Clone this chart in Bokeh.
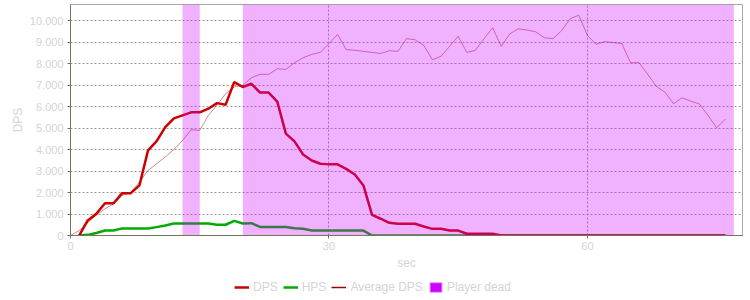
from bokeh.plotting import figure
from bokeh.layouts import column
from bokeh.models import (Range1d, FixedTicker, CustomJSTickFormatter, Legend, LegendItem,
                          ColumnDataSource)
from bokeh.embed import file_html
from bokeh.resources import INLINE

# ---- data ----
seconds = list(range(1, 77))
dps = [0, 700, 1010, 1500, 1500, 1970, 1970, 2330, 3960, 4390,
       5040, 5450, 5590, 5730, 5730, 5900, 6160, 6080, 7140, 6910,
       7060, 6650, 6650, 6230, 4740, 4380, 3770, 3490, 3340, 3310,
       3310, 3100, 2840, 2330, 960, 780, 590, 545, 545, 545,
       420, 310, 310, 230, 230, 80, 80, 80, 80, 0,
       0, 0, 0, 0, 0, 0, 0, 0, 0, 0,
       0, 0, 0, 0, 0, 0, 0, 0, 0, 0,
       0, 0, 0, 0, 0, 0]
hps = [0, 30, 120, 230, 230, 330, 330, 330, 330, 390,
       465, 560, 560, 560, 560, 560, 500, 500, 680, 560,
       575, 400, 400, 400, 400, 340, 310, 230, 230, 230,
       230, 230, 230, 230, 0, 0, 0, 0, 0, 0,
       0, 0, 0, 0, 0, 0, 0, 0, 0, 0,
       0, 0, 0, 0, 0, 0, 0, 0, 0, 0,
       0, 0, 0, 0, 0, 0, 0, 0, 0, 0,
       0, 0, 0, 0, 0, 0]
seconds_avg = list(range(0, 77))
avg_dps = [0, 230, 600, 950, 1240, 1470, 1860, 2010, 2480, 3030,
           3340, 3650, 4000, 4420, 4920, 4890, 5590, 6060, 6600, 6910,
           6990, 7340, 7500, 7500, 7760, 7730, 8040, 8270, 8430, 8520,
           8930, 9360, 8650, 8620, 8570, 8520, 8470, 8600, 8570, 9160,
           9110, 8850, 8180, 8340, 8800, 9270, 8520, 8620, 9160, 9670,
           8800, 9390, 9620, 9560, 9480, 9200, 9160, 9530, 10090, 10250,
           9310, 8900, 9020, 8980, 8930, 8040, 8040, 7500, 6940, 6670,
           6130, 6410, 6250, 6120, 5590, 5010, 5420]
dead_start = [13, 20]
dead_end = [15, 77]
x_ticks = [0, 30, 60]
y_ticks = list(range(0, 10001, 1000))
legend_labels = ["DPS", "HPS", "Average DPS", "Player dead"]

FONT = "Liberation Sans"
LABEL = "#d4d4d4"
AXIS = "#74745f"
NAN = float("nan")
DPS_C, HPS_C, AVG_C, DEAD_C = "#cc0000", "#00aa00", "#990000", "#cc00ff"

p = figure(width=750, height=272, output_backend="svg", toolbar_location=None,
           x_range=Range1d(0, 78), y_range=Range1d(0, 10750),
           min_border_left=70, min_border_right=8, min_border_top=4,
           min_border_bottom=30)
p.background_fill_color = "white"
p.border_fill_color = "white"
p.outline_line_color = "#a8a8a8"

for ax in (p.xaxis[0], p.yaxis[0]):
    ax.axis_line_color = AXIS
    ax.major_tick_line_color = AXIS
    ax.major_tick_out = 3
    ax.major_tick_in = 0
    ax.minor_tick_line_color = None
    ax.major_label_text_color = LABEL
    ax.major_label_text_font = FONT
    ax.major_label_text_font_size = "11px"
    ax.axis_label_text_color = LABEL
    ax.axis_label_text_font = FONT
    ax.axis_label_text_font_size = "12px"
    ax.axis_label_text_font_style = "normal"

p.xaxis.ticker = FixedTicker(ticks=x_ticks)
p.yaxis.ticker = FixedTicker(ticks=y_ticks)
p.yaxis.formatter = CustomJSTickFormatter(
    code='return tick.toString().replace(/\\B(?=(\\d{3})+(?!\\d))/g, ".");')
p.xaxis.axis_label = "sec"
p.yaxis.axis_label = "DPS"
p.xaxis.major_label_standoff = 3
p.yaxis.major_label_standoff = 4
p.xaxis.axis_label_standoff = 3
p.yaxis.axis_label_standoff = 2

for g in (p.xgrid[0], p.ygrid[0]):
    g.grid_line_color = "#9a9a90"
    g.grid_line_dash = "2 2"
    g.grid_line_width = 1

p.line(seconds_avg, avg_dps, line_color=AVG_C, line_width=1, line_alpha=0.45)
p.line(seconds, hps, line_color=HPS_C, line_width=2.5)
p.line(seconds, dps, line_color=DPS_C, line_width=2.5)

dead_src = ColumnDataSource(dict(left=dead_start, right=dead_end,
                                 bottom=[0] * len(dead_start),
                                 top=[10750] * len(dead_start)))
p.quad(left="left", right="right", bottom="bottom", top="top", source=dead_src,
       fill_color=DEAD_C, fill_alpha=0.3, line_color=None)

# ---- legend strip below the chart ----
lg = figure(width=750, height=28, output_backend="svg", toolbar_location=None,
            x_range=Range1d(0, 1), y_range=Range1d(0, 1),
            x_axis_type=None, y_axis_type=None,
            min_border_left=0, min_border_right=0, min_border_top=0, min_border_bottom=0)
lg.outline_line_color = None
lg.grid.visible = False
lg.background_fill_color = "white"
lg.border_fill_color = "white"
g_dps = lg.line([NAN, NAN], [NAN, NAN], line_color=DPS_C, line_width=2.5)
g_hps = lg.line([NAN, NAN], [NAN, NAN], line_color=HPS_C, line_width=2.5)
g_avg = lg.line([NAN, NAN], [NAN, NAN], line_color=AVG_C, line_width=1.5)
g_dead = lg.quad(left=[NAN], right=[NAN], bottom=[NAN], top=[NAN], fill_color=DEAD_C,
                 line_color="#e6a0ff", line_width=1)

legend = Legend(items=[LegendItem(label=lab, renderers=[r]) for lab, r in
                       zip(legend_labels, [g_dps, g_hps, g_avg, g_dead])],
                orientation="horizontal", location=(164, 6))
legend.label_text_color = LABEL
legend.label_text_font = FONT
legend.label_text_font_size = "12px"
legend.glyph_width = 15
legend.glyph_height = 12
legend.label_standoff = 4
legend.spacing = 5
legend.padding = 2
legend.margin = 0
legend.border_line_color = None
legend.background_fill_alpha = 0
lg.add_layout(legend)

layout = column(p, lg, spacing=0)
open("out.html", "w").write(file_html(layout, INLINE))
